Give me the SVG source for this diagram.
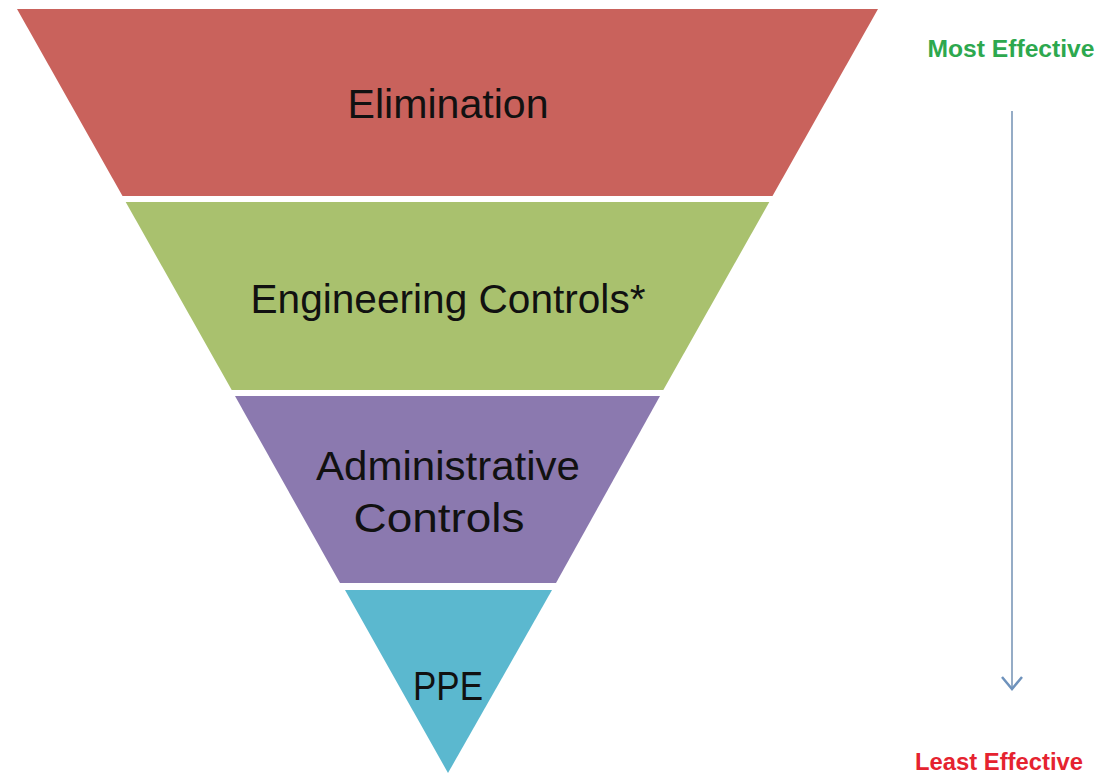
<svg xmlns="http://www.w3.org/2000/svg" width="1109" height="780" viewBox="0 0 1109 780">
<style>
.lbl{font-family:"Liberation Sans",Arial,sans-serif;font-size:40px;fill:#111;text-anchor:middle}
.side{font-family:"Liberation Sans",Arial,sans-serif;font-size:23px;font-weight:bold;text-anchor:middle}
</style>
<defs>
<marker id="chev" markerWidth="24" markerHeight="24" refX="20" refY="12" orient="auto" markerUnits="userSpaceOnUse">
<path d="M8,2 L20,12 L8,22" fill="none" stroke="#6E92BC" stroke-width="2.5"/>
</marker>
</defs>
<rect width="1109" height="780" fill="#fff"/>
<g id="elimination">
<polygon points="17,9 878,9 772.5,196 122.5,196" fill="#C9625C"/>
<text class="lbl" x="448" y="118" textLength="201" lengthAdjust="spacingAndGlyphs">Elimination</text>
</g>
<g id="engineering">
<polygon points="125.7,202 769.3,202 663.3,390 231.7,390" fill="#A9C16E"/>
<text class="lbl" x="448" y="313" textLength="395" lengthAdjust="spacingAndGlyphs">Engineering Controls*</text>
</g>
<g id="administrative">
<polygon points="235,396 660,396 556,583 340,583" fill="#8B79AF"/>
<text class="lbl" x="448" y="480" textLength="264" lengthAdjust="spacingAndGlyphs">Administrative</text>
<text class="lbl" x="439" y="532" textLength="171" lengthAdjust="spacingAndGlyphs">Controls</text>
</g>
<g id="ppe">
<polygon points="345,590 552,590 448,773" fill="#5BB8CF"/>
<text class="lbl" x="448" y="700" textLength="70" lengthAdjust="spacingAndGlyphs">PPE</text>
</g>
<g id="most-effective">
<text class="side" x="1011" y="57" fill="#2DA84E" textLength="167" lengthAdjust="spacingAndGlyphs">Most Effective</text>
</g>
<g id="least-effective">
<text class="side" x="999" y="770" fill="#E5232F" textLength="168" lengthAdjust="spacingAndGlyphs">Least Effective</text>
</g>
<g id="connectors">
<line x1="1012" y1="111" x2="1012" y2="689" stroke="#8AA3C0" stroke-width="1.8" marker-end="url(#chev)"/>
</g>
</svg>
